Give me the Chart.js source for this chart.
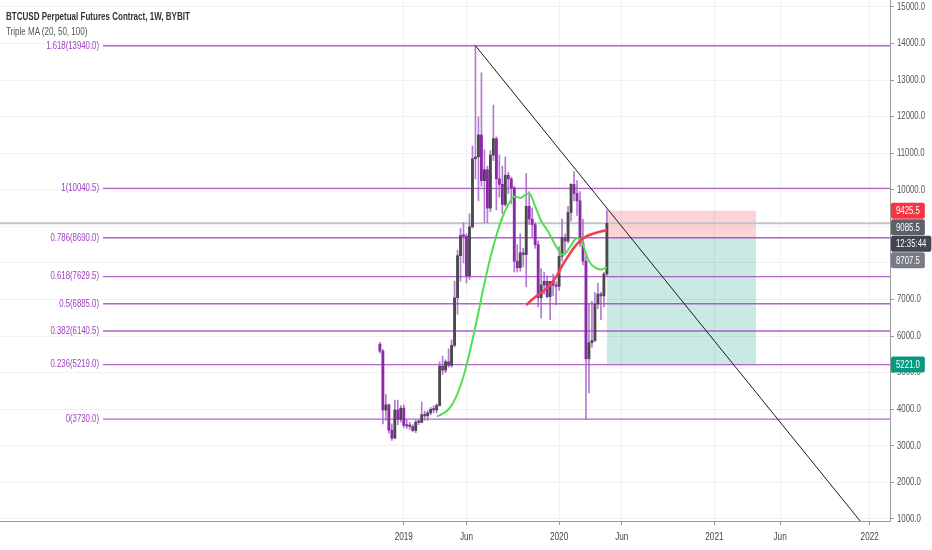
<!DOCTYPE html>
<html>
<head>
<meta charset="utf-8">
<script src="https://cdn.jsdelivr.net/npm/chart.js@4.4.1/dist/chart.umd.min.js"></script>
<style>
  body { margin: 0; background: #fff; }
  #wrap { position: relative; width: 932px; height: 550px; }
  #head { position: absolute; left: 6px; top: 9px; font-family: "Liberation Sans", Arial, sans-serif; pointer-events: none;
          transform: scaleX(0.78); transform-origin: 0 0; white-space: nowrap; }
  #head .t1 { font-size: 10.3px; font-weight: bold; color: #333; line-height: 15px; }
  #head .t2 { font-size: 10.3px; color: #555; line-height: 15px; }
</style>
</head>
<body>
<div id="wrap">
  <canvas id="chart" width="932" height="550"></canvas>
  <div id="head">
    <div class="t1">BTCUSD Perpetual Futures Contract, 1W, BYBIT</div>
    <div class="t2">Triple MA (20, 50, 100)</div>
  </div>
</div>
<script>
const FONT = '"Liberation Sans", Arial, sans-serif';
const TEXT_SQUEEZE = 0.78; // the screenshot uses a narrow face

// weekly candles, first one is the week of 12 Nov 2018 (week index -7, week 0 = 31 Dec 2018)
const firstWeek = -7;
const opens  = [5780, 5590, 3980, 4120, 3430, 3210, 3980, 3720, 4030, 3560, 3540, 3530, 3420, 3650, 3640, 3850, 3820, 3900, 4000, 3980,
                4100, 5180, 5070, 5300, 5200, 5750, 7050, 8200, 8750, 8730, 7650, 8990, 10850, 10900, 11500, 10250, 10550, 9500, 10950, 11400,
                10300, 10150, 9600, 10400, 10300, 10050, 8050, 7870, 8280, 8230, 9550, 9200, 9050, 8500, 7050, 7400, 7500, 7080, 7500, 7390,
                7360, 8180, 8700, 8600, 9380, 10150, 9900, 9700, 8550, 8050, 5380, 5820, 5880, 6880, 7150, 7100, 7700];
const highs  = [5830, 5640, 4400, 4150, 3600, 4250, 4250, 4100, 4120, 3720, 3640, 3580, 3700, 3720, 4200, 3950, 3960, 4050, 4100, 4150,
                5300, 5450, 5350, 5650, 5900, 7500, 8350, 8950, 9100, 8800, 9350, 11200, 13940, 12000, 13200, 11100, 10650, 11080, 12320, 11450,
                10950, 10650, 10900, 10480, 10350, 10100, 8500, 8800, 8400, 10450, 9950, 9500, 9100, 8600, 7850, 7750, 7650, 7500, 7700, 7500,
                8450, 9200, 8800, 9550, 10170, 10500, 10250, 9950, 9200, 8200, 6900, 6950, 7200, 7450, 7200, 7750, 9450];
const lows   = [5540, 3600, 3700, 3350, 3150, 3200, 3580, 3650, 3500, 3480, 3450, 3380, 3360, 3580, 3630, 3700, 3700, 3850, 3900, 3900,
                4090, 4950, 5000, 5150, 5150, 5700, 6600, 7500, 8000, 7450, 7550, 8950, 10300, 9700, 10100, 9100, 9100, 9400, 10800, 9450,
                9800, 9350, 9550, 9900, 9620, 7750, 7750, 7780, 7900, 7350, 9050, 8700, 8400, 6800, 6500, 7150, 7050, 6450, 7100, 6850,
                7250, 8050, 8250, 8550, 9150, 9700, 9300, 8450, 7950, 3730, 4450, 5700, 5850, 6750, 6450, 6800, 7650];
const closes = [5590, 3980, 4120, 3430, 3210, 3980, 3720, 4030, 3560, 3540, 3530, 3420, 3650, 3640, 3850, 3820, 3900, 4000, 3980, 4100,
                5180, 5070, 5300, 5200, 5750, 7050, 8200, 8750, 8730, 7650, 8990, 10850, 10900, 11500, 10250, 10550, 9500, 10950, 11400, 10300,
                10150, 9600, 10400, 10300, 10050, 8050, 7870, 8280, 8230, 9550, 9200, 9050, 8500, 7050, 7400, 7500, 7080, 7500, 7390, 7360,
                8180, 8700, 8600, 9380, 10150, 9900, 9700, 8550, 8050, 5380, 5820, 5880, 6880, 7150, 7100, 7700, 9085.5];

// moving averages (week index, price)
const ma20Weeks = [12, 14, 16, 18, 20, 22, 24, 26, 28, 30, 32, 34, 36, 38, 40, 42, 43, 45, 47, 49, 51, 53, 54, 55, 57, 59, 60, 61, 63, 65, 67, 69];
const ma20Vals  = [3800, 3880, 4000, 4250, 4650, 5200, 5900, 6650, 7450, 8150, 8750, 9250, 9600, 9820, 9780, 9880, 9900, 9550, 9150, 8900, 8600, 8320, 8230, 8250, 8480, 8680, 8660, 8500, 8050, 7880, 7820, 7880];
const ma50Weeks = [42, 44, 46, 48, 50, 52, 54, 56, 58, 60, 62, 64, 66, 68, 69];
const ma50Vals  = [6850, 7000, 7130, 7250, 7400, 7620, 7920, 8180, 8420, 8600, 8720, 8790, 8840, 8880, 8900];

// fibonacci levels
const fibRatios = ['1.618', '1', '0.786', '0.618', '0.5', '0.382', '0.236', '0'];
const fibValues = [13940.0, 10040.5, 8690.0, 7629.5, 6885.0, 6140.5, 5219.0, 3730.0];
const fibStartWeek = -99.7;

// trend line (week, price)
const trendWeeks = [25, 160];
const trendVals  = [13940, 320];

// short position tool
const posWeeks = [69, 119];
const posEntry = 8707.5;
const posStop = 9425.5;
const posTarget = 5221.0;
const lastPrice = 9085.5;
const countdown = '12:35:44';

// axis ticks
const xTickWeeks  = [1, 22, 53, 74, 105, 127, 157];
const xTickLabels = ['2019', 'Jun', '2020', 'Jun', '2021', 'Jun', '2022'];
const yTicks = [1000, 2000, 3000, 4000, 5000, 6000, 7000, 8000, 9000, 10000, 11000, 12000, 13000, 14000, 15000];

const UP = '#4a4a4d';
const DOWN = '#8a2aa8';
const FIB = 'rgba(156, 60, 190, 0.8)';

const candleWeeks = opens.map((_, i) => firstWeek + i);
const wickData = candleWeeks.map((w, i) => ({ x: w, y: [lows[i], highs[i]] }));
const bodyData = candleWeeks.map((w, i) => ({ x: w, y: [opens[i], closes[i]] }));
const bodyColors = opens.map((o, i) => closes[i] >= o ? UP : DOWN);

function hLine(v, from, to) {
    return [{ x: from, y: v }, { x: to, y: v }];
}

// squeeze every canvas text horizontally around its anchor point
const canvas = document.getElementById('chart');
const c2d = canvas.getContext('2d');
const rawFillText = c2d.fillText.bind(c2d);
c2d.fillText = function (text, x, y, maxWidth) {
    this.save();
    this.translate(x, y);
    this.scale(TEXT_SQUEEZE, 1);
    if (maxWidth === undefined) rawFillText(text, 0, 0);
    else rawFillText(text, 0, 0, maxWidth / TEXT_SQUEEZE);
    this.restore();
};

const overlayPlugin = {
    id: 'overlay',
    afterDatasetsDraw(chart) {
        const { ctx, scales: { x, y } } = chart;
        ctx.save();
        ctx.font = '10px ' + FONT;
        ctx.fillStyle = '#9c3fc0';
        ctx.textAlign = 'right';
        ctx.textBaseline = 'middle';
        const lx = x.getPixelForValue(fibStartWeek) - 4;
        fibRatios.forEach((r, i) => {
            ctx.fillText(r + '(' + fibValues[i].toFixed(1) + ')', lx, y.getPixelForValue(fibValues[i]));
        });
        ctx.restore();
    },
    afterDraw(chart) {
        const { ctx, scales: { y }, chartArea } = chart;
        const tags = [
            { v: posStop, text: posStop.toFixed(1), bg: '#f23645' },
            { v: lastPrice, text: lastPrice.toFixed(1), bg: '#5d606b' },
            { v: null, text: countdown, bg: '#434651' },
            { v: posEntry, text: posEntry.toFixed(1), bg: '#787b86' },
            { v: posTarget, text: posTarget.toFixed(1), bg: '#089981' }
        ];
        const h = 16;
        let prevBottom = -Infinity;
        ctx.save();
        ctx.font = '10px ' + FONT;
        ctx.textBaseline = 'middle';
        ctx.textAlign = 'left';
        tags.forEach(t => {
            const top = t.v === null ? prevBottom + 0.5 : Math.max(y.getPixelForValue(t.v) - h / 2, prevBottom + 0.5);
            const w = ctx.measureText(t.text).width * TEXT_SQUEEZE + 10;
            const x0 = chartArea.right + 1;
            ctx.fillStyle = t.bg;
            ctx.beginPath();
            ctx.roundRect(x0, top, w, h, 2);
            ctx.fill();
            ctx.fillStyle = '#fff';
            ctx.fillText(t.text, x0 + 5, top + h / 2 + 0.5);
            prevBottom = top + h;
        });
        ctx.restore();
    }
};

new Chart(canvas, {
    type: 'bar',
    data: {
        datasets: [
            // position boxes
            {
                type: 'line', data: hLine(posStop, posWeeks[0], posWeeks[1]),
                borderWidth: 0, pointRadius: 0, fill: { value: posEntry },
                backgroundColor: 'rgba(242, 54, 69, 0.22)', order: 20
            },
            {
                type: 'line', data: hLine(posTarget, posWeeks[0], posWeeks[1]),
                borderWidth: 0, pointRadius: 0, fill: { value: posEntry },
                backgroundColor: 'rgba(8, 153, 129, 0.22)', order: 20
            },
            // fib lines
            ...fibValues.map(v => ({
                type: 'line', data: hLine(v, fibStartWeek, 175),
                borderColor: FIB, borderWidth: 1.3, pointRadius: 0, order: 15
            })),
            // last price line
            {
                type: 'line', data: hLine(lastPrice, -140, 175),
                borderColor: '#c4c4c8', borderWidth: 2, pointRadius: 0, order: 14
            },
            // wicks
            {
                data: wickData, backgroundColor: 'rgba(160, 90, 195, 0.8)',
                barThickness: 1, grouped: false, order: 10
            },
            // bodies
            {
                data: bodyData, backgroundColor: bodyColors,
                barThickness: 2.2, grouped: false, minBarLength: 1.5, order: 9
            },
            // MA 20
            {
                type: 'line', data: ma20Weeks.map((w, i) => ({ x: w, y: ma20Vals[i] })),
                borderColor: '#4ee04e', borderWidth: 2, pointRadius: 0,
                cubicInterpolationMode: 'monotone', order: 5
            },
            // MA 50
            {
                type: 'line', data: ma50Weeks.map((w, i) => ({ x: w, y: ma50Vals[i] })),
                borderColor: '#ef4250', borderWidth: 2.6, pointRadius: 0,
                cubicInterpolationMode: 'monotone', order: 4
            },
            // trend line
            {
                type: 'line', data: trendWeeks.map((w, i) => ({ x: w, y: trendVals[i] })),
                borderColor: '#1a1a1a', borderWidth: 1, pointRadius: 0, order: 3
            }
        ]
    },
    options: {
        responsive: false,
        animation: false,
        devicePixelRatio: 1,
        layout: { padding: 0 },
        plugins: { legend: { display: false }, tooltip: { enabled: false } },
        scales: {
            x: {
                type: 'linear',
                min: -134.2,
                max: 163.8,
                offset: false,
                grid: { color: '#eff1f5', tickColor: '#9a9a9a', tickLength: 4, offset: false },
                border: { color: '#9a9a9a' },
                afterBuildTicks: axis => { axis.ticks = xTickWeeks.map(v => ({ value: v })); },
                afterFit: axis => { axis.height = 29; axis.paddingLeft = 0; axis.paddingRight = 0; },
                ticks: {
                    autoSkip: false, maxRotation: 0, padding: 6,
                    color: '#444', font: { family: FONT, size: 10.5 },
                    callback: (v, i) => xTickLabels[i]
                }
            },
            y: {
                type: 'linear',
                position: 'right',
                min: 945,
                max: 15191,
                grid: { color: '#eff1f5', tickColor: '#9a9a9a', tickLength: 4 },
                border: { color: '#9a9a9a' },
                afterBuildTicks: axis => { axis.ticks = yTicks.map(v => ({ value: v })); },
                afterFit: axis => { axis.width = 42; axis.paddingTop = 0; axis.paddingBottom = 0; },
                ticks: {
                    padding: 3,
                    color: '#555', font: { family: FONT, size: 10 },
                    callback: v => v.toFixed(1)
                }
            }
        }
    },
    plugins: [overlayPlugin]
});
</script>
</body>
</html>
